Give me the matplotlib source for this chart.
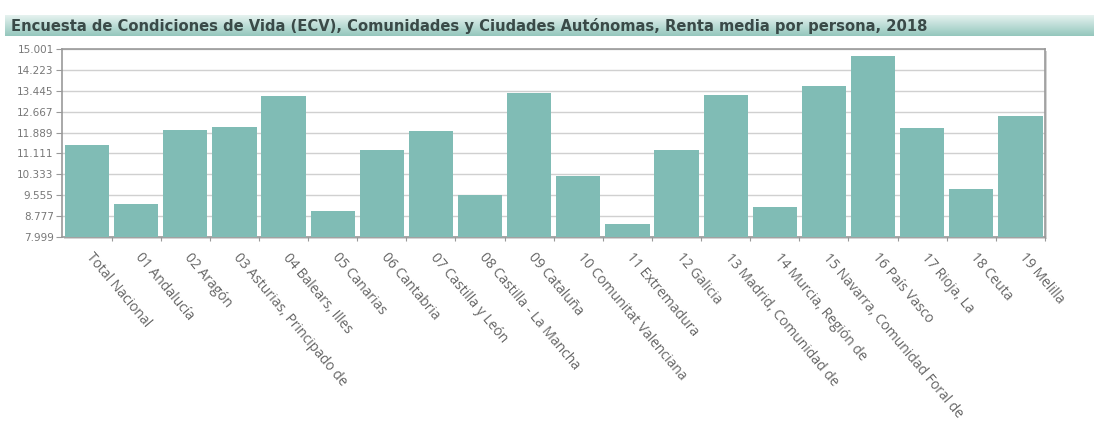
import matplotlib
matplotlib.use("Agg")
import matplotlib.pyplot as plt
from matplotlib.patches import Rectangle
import numpy as np

# renta media por persona (euros), ECV 2018
regions = ['Total Nacional', '01 Andalucía', '02 Aragón',
           '03 Asturias, Principado de', '04 Balears, Illes', '05 Canarias',
           '06 Cantabria', '07 Castilla y León', '08 Castilla - La Mancha',
           '09 Cataluña', '10 Comunitat Valenciana', '11 Extremadura',
           '12 Galicia', '13 Madrid, Comunidad de', '14 Murcia, Región de',
           '15 Navarra, Comunidad Foral de', '16 País Vasco', '17 Rioja, La',
           '18 Ceuta', '19 Melilla']
renta = [11412, 9246, 11989, 12088, 13235, 8959, 11228, 11964, 9545, 13360,
         10268, 8498, 11241, 13273, 9121, 13610, 14732, 12051, 9782, 12487]
yticks = [7999, 8777, 9555, 10333, 11111, 11889, 12667, 13445, 14223, 15001]

title = ('Encuesta de Condiciones de Vida (ECV), Comunidades y Ciudades '
         'Autónomas, Renta media por persona, 2018')

bar_color = '#80bcb5'
W, H = 1094, 441

fig = plt.figure(figsize=(W / 100, H / 100), dpi=100)

# header strip with vertical gradient
hdr = fig.add_axes([5 / W, 1 - 36 / H, 1 - 5 / W, 21 / H])
grad = np.linspace(0, 1, 64).reshape(-1, 1)
top = np.array([0.90, 0.95, 0.94])
bot = np.array([0.58, 0.78, 0.74])
img = top + (bot - top) * grad[:, :, None]
hdr.imshow(img, aspect='auto', extent=[0, 1, 0, 1])
hdr.set_xlim(0, 1)
hdr.set_ylim(0, 1)
hdr.axis('off')
fig.text(11 / W, 1 - 26 / H, title, fontsize=10.6, fontweight='bold',
         color='#3a4a48', va='center', ha='left', family='DejaVu Sans')

left, right, ytop, ybot = 62, 1045, 49, 237

# soft drop shadow behind the plot frame
fig.patches.append(Rectangle(((left + 2) / W, 1 - (ybot + 2) / H),
                             (right - left) / W, (ybot - ytop) / H,
                             transform=fig.transFigure, facecolor='#d4d4d4',
                             edgecolor='none', zorder=-5))

ax = fig.add_axes([left / W, 1 - ybot / H, (right - left) / W, (ybot - ytop) / H])
ax.set_zorder(2)
x = np.arange(len(regions))
ax.bar(x, renta, width=0.9, color=bar_color, zorder=3)

ax.set_ylim(yticks[0], yticks[-1])
ax.set_xlim(-0.51, len(regions) - 0.51)
ax.set_yticks(yticks)
ax.set_yticklabels([f'{v:,}'.replace(',', '.') for v in yticks],
                   fontsize=7.5, color='#777777')
ax.yaxis.grid(True, color='#d0d0d0', linewidth=1, zorder=0)

# x ticks at slot boundaries, labels at bar centres
ax.set_xticks(x + 0.5, minor=False)
ax.set_xticklabels([])
ax.tick_params(axis='x', length=3, color='#999999')
ax.tick_params(axis='y', length=4, color='#999999', pad=2)
for xi, name in zip(x, regions):
    ax.text(xi + 0.15, yticks[0] - 500, name, rotation=-50,
            rotation_mode='anchor', ha='left', va='top',
            fontsize=10, color='#666666', family='Open Sans')

for s in ax.spines.values():
    s.set_color('#999999')
    s.set_linewidth(1.2)

fig.savefig('out.png', dpi=100)
